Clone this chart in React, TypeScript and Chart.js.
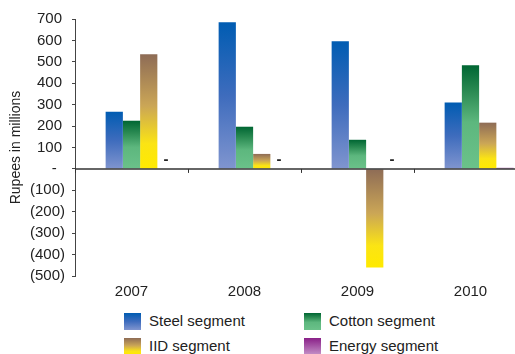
import React, { useEffect, useRef } from "react";
import { Chart, registerables } from "chart.js";

Chart.register(...registerables);

const years = ["2007", "2008", "2009", "2010"];
const steelSegment = [267, 685, 596, 310];
const cottonSegment = [225, 197, 136, 484];
const iidSegment = [535, 70, -460, 216];
const energySegment = [0, 0, 0, 5];
const yAxisTitle = "Rupees in millions";

const FONT = "'Liberation Sans', Arial, Helvetica, sans-serif";

type Stops = [number, string][];
const steelStops: Stops = [[0, "#005CB2"], [0.5, "#3E6CBD"], [1, "#8095CF"]];
const cottonStops: Stops = [[0, "#006633"], [0.25, "#2A8A52"], [0.55, "#5DB77E"], [1, "#6BC28A"]];
const iidStops: Stops = [[0, "#8E6C56"], [0.45, "#CBA656"], [0.78, "#FBE414"], [1, "#FFEA00"]];
const energyStops: Stops = [[0, "#8A2088"], [1, "#C592C8"]];

function gradientFill(stops: Stops) {
  return (ctx: any) => {
    const chart = ctx.chart;
    const y = chart.scales && chart.scales.y;
    if (!chart.chartArea || !y || ctx.type !== "data") return stops[0][1];
    const v = ctx.raw;
    if (v == null) return "rgba(0,0,0,0)";
    const p1 = y.getPixelForValue(v);
    const p0 = y.getPixelForValue(0);
    const top = Math.min(p1, p0);
    const bot = Math.max(p1, p0);
    if (bot - top < 2) return stops[0][1];
    const g = chart.ctx.createLinearGradient(0, top, 0, bot);
    stops.forEach(([o, c]) => g.addColorStop(o, c));
    return g;
  };
}

function cssGradient(stops: Stops) {
  return `linear-gradient(to bottom, ${stops.map(([o, c]) => `${c} ${o * 100}%`).join(", ")})`;
}

const decorPlugin = {
  id: "decor",
  afterDatasetsDraw(chart: any) {
    const { ctx, chartArea, scales } = chart;
    const y0 = scales.y.getPixelForValue(0);
    ctx.save();
    ctx.strokeStyle = "#333";
    ctx.lineWidth = 1.5;
    ctx.beginPath();
    ctx.moveTo(chartArea.left, y0);
    ctx.lineTo(chartArea.right, y0);
    ctx.stroke();
    ctx.lineWidth = 1;
    const n = years.length;
    const w = (chartArea.right - chartArea.left) / n;
    for (let i = 0; i <= n; i++) {
      const x = Math.round(chartArea.left + i * w) + 0.5;
      ctx.beginPath();
      ctx.moveTo(x, y0);
      ctx.lineTo(x, y0 + 4);
      ctx.stroke();
    }
    const meta = chart.getDatasetMeta(4);
    ctx.fillStyle = "#222";
    ctx.font = `bold 15px ${FONT}`;
    ctx.textAlign = "center";
    ctx.textBaseline = "alphabetic";
    meta.data.forEach((bar: any, i: number) => {
      if (energySegment[i] === 0) {
        ctx.fillText("-", bar.x, y0 - 5);
      }
    });
    ctx.restore();
  },
};

export default function App() {
  const ref = useRef<HTMLCanvasElement>(null);
  useEffect(() => {
    if (!ref.current) return;
    const chart = new Chart(ref.current, {
      type: "bar",
      data: {
        labels: years,
        datasets: [
          { label: "", data: years.map(() => null) as any },
          { label: "Steel segment", data: steelSegment, backgroundColor: gradientFill(steelStops) as any },
          { label: "Cotton segment", data: cottonSegment, backgroundColor: gradientFill(cottonStops) as any },
          { label: "IID segment", data: iidSegment, backgroundColor: gradientFill(iidStops) as any },
          { label: "Energy segment", data: energySegment, backgroundColor: gradientFill(energyStops) as any },
        ],
      },
      options: {
        responsive: false,
        animation: false,
        devicePixelRatio: 1,
        datasets: { bar: { categoryPercentage: 0.763, barPercentage: 1.0, borderWidth: 0 } },
        layout: { padding: { top: 19, right: 3, bottom: 0, left: 0 } },
        plugins: { legend: { display: false }, title: { display: false }, tooltip: { enabled: false } },
        scales: {
          x: {
            type: "category",
            offset: true,
            grid: { display: false, drawTicks: false },
            border: { display: false },
            ticks: { color: "#222", font: { family: FONT, size: 15 }, padding: 7, maxRotation: 0, autoSkip: false },
          },
          y: {
            min: -500,
            max: 700,
            afterFit: (scale: any) => {
              scale.width = 75;
            },
            ticks: {
              stepSize: 100,
              autoSkip: false,
              color: "#222",
              padding: 7,
              font: { family: FONT, size: 15 },
              callback: (v: any) => {
                const n = Number(v);
                if (n === 0) return "-  ";
                if (n < 0) return `(${Math.abs(n)})`;
                return `${n}\u2009`;
              },
            },
            grid: { drawOnChartArea: false, tickLength: 3, color: "#444", tickColor: "#444" },
            border: { display: true, color: "#444", width: 1 },
            title: {
              display: true,
              text: yAxisTitle,
              color: "#222",
              font: { family: FONT, size: 14 },
              padding: { top: 8, bottom: 0 },
            },
          },
        },
      },
      plugins: [decorPlugin],
    });
    return () => chart.destroy();
  }, []);

  const legendItems = [
    { label: "Steel segment", stops: steelStops, left: 124, top: 313 },
    { label: "IID segment", stops: iidStops, left: 124, top: 338 },
    { label: "Cotton segment", stops: cottonStops, left: 304, top: 313 },
    { label: "Energy segment", stops: energyStops, left: 304, top: 338 },
  ];

  return (
    <div
      style={{
        position: "fixed",
        left: 0,
        top: 0,
        width: 515,
        height: 354,
        overflow: "hidden",
        background: "#fff",
        fontFamily: FONT,
      }}
    >
      <canvas
        ref={ref}
        width={530}
        height={308}
        style={{ position: "absolute", left: 0, top: 0, width: 530, height: 308 }}
      />
      {legendItems.map((it) => (
        <div key={it.label}>
          <div
            style={{
              position: "absolute",
              left: it.left,
              top: it.top,
              width: 17,
              height: 17,
              background: cssGradient(it.stops),
            }}
          />
          <div
            style={{
              position: "absolute",
              left: it.left + 25,
              top: it.top - 1,
              fontSize: 15,
              lineHeight: "18px",
              color: "#222",
              whiteSpace: "nowrap",
            }}
          >
            {it.label}
          </div>
        </div>
      ))}
    </div>
  );
}
